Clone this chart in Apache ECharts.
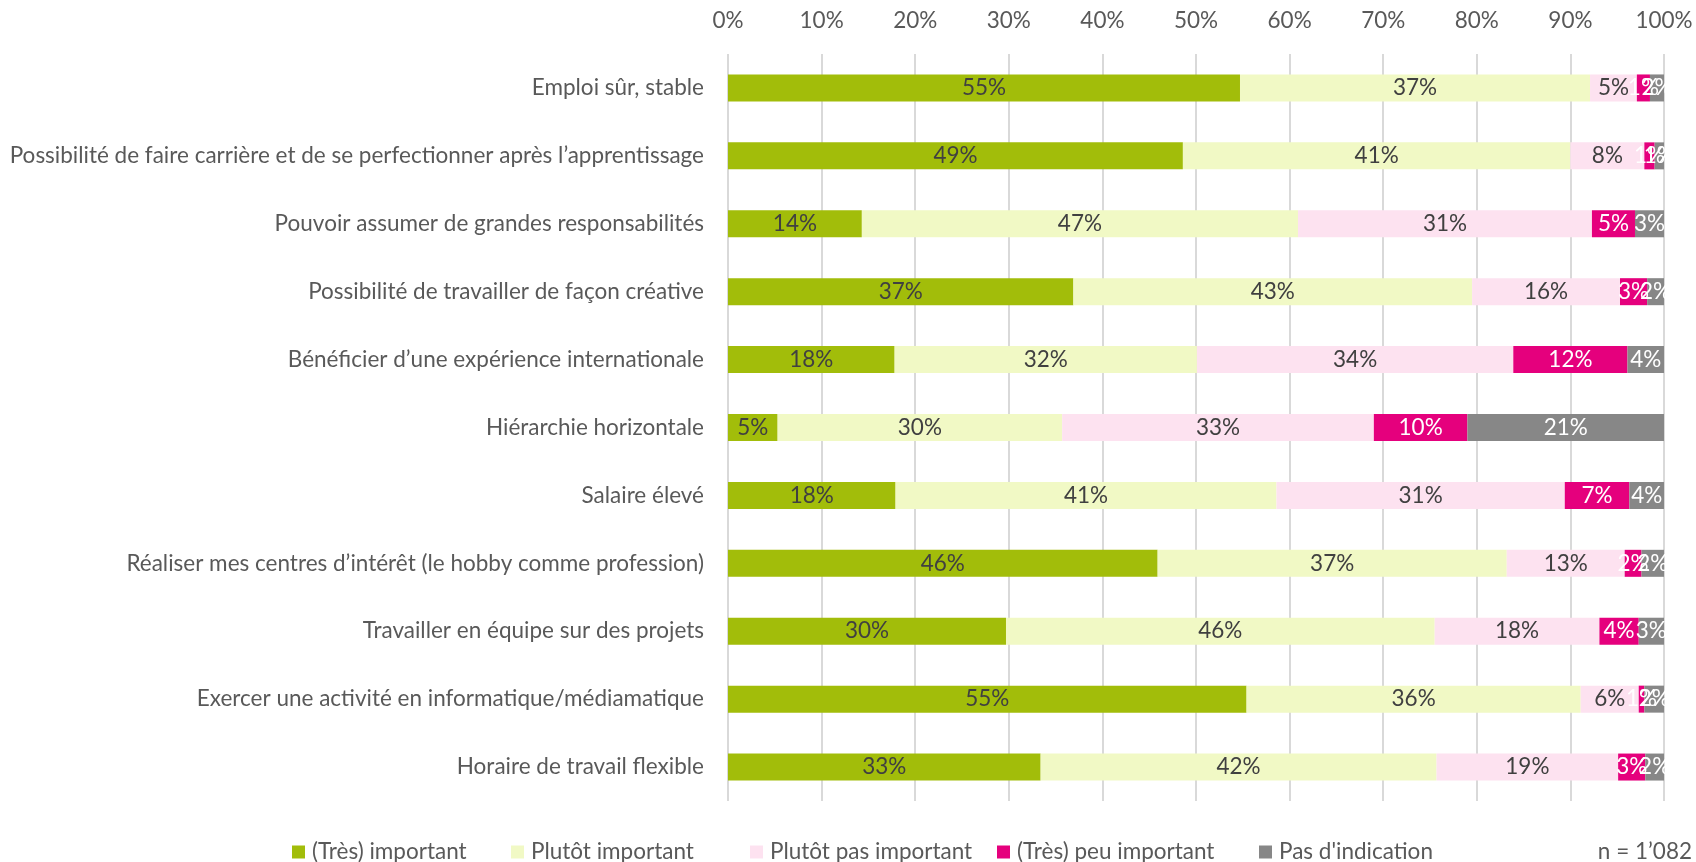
<!DOCTYPE html>
<html><head><meta charset="utf-8">
<script src="https://cdn.jsdelivr.net/npm/echarts@6/dist/echarts.min.js"></script>
<style>html,body{margin:0;padding:0;background:#fff}#c{width:1696px;height:862px}</style>
</head><body><div id="c"></div>
<script>
const categories = [
  "Emploi sûr, stable",
  "Possibilité de faire carrière et de se perfectionner après l’apprentissage",
  "Pouvoir assumer de grandes responsabilités",
  "Possibilité de travailler de façon créative",
  "Bénéficier d’une expérience internationale",
  "Hiérarchie horizontale",
  "Salaire élevé",
  "Réaliser mes centres d’intérêt (le hobby comme profession)",
  "Travailler en équipe sur des projets",
  "Exercer une activité en informatique/médiamatique",
  "Horaire de travail flexible"
];
const seriesNames = ["(Très) important", "Plutôt important", "Plutôt pas important", "(Très) peu important", "Pas d'indication"];
const tresImportant   = [54.7, 48.6, 14.3, 36.9, 17.8, 5.3, 17.9, 45.9, 29.7, 55.4, 33.4];
const plutotImportant = [37.4, 41.4, 46.6, 42.6, 32.3, 30.4, 40.7, 37.3, 45.8, 35.7, 42.3];
const plutotPas       = [5.0, 7.9, 31.4, 15.8, 33.8, 33.3, 30.8, 12.6, 17.6, 6.2, 19.4];
const peuImportant    = [1.4, 1.1, 4.6, 2.9, 12.2, 10.0, 6.9, 1.8, 4.2, 0.6, 2.9];
const pasIndication   = [1.5, 1.0, 3.1, 1.8, 3.9, 21.0, 3.7, 2.4, 2.7, 2.1, 2.0];
const tickLabels = ["0%","10%","20%","30%","40%","50%","60%","70%","80%","90%","100%"];
const noteText = "n = 1’082";

const colors = ["#a2bd0a", "#f1f9c5", "#fde2f0", "#e5007d", "#878787"];
const labelColors = ["#404040", "#404040", "#404040", "#ffffff", "#ffffff"];
const FONT = "Lato, sans-serif";
const FS = 22.5;
const allData = [tresImportant, plutotImportant, plutotPas, peuImportant, pasIndication];
const legendLefts = [292, 511, 750, 997, 1259];

const chart = echarts.init(document.getElementById('c'));
chart.setOption({
  animation: false,
  textStyle: { fontFamily: FONT },
  grid: { left: 728, right: 32, top: 54, bottom: 61, containLabel: false },
  xAxis: {
    type: 'value', position: 'top', min: 0, max: 100, interval: 10,
    axisLine: { show: false }, axisTick: { show: false },
    axisLabel: { margin: 22, color: '#595959', fontSize: FS, fontFamily: FONT,
      formatter: v => tickLabels[Math.round(v / 10)] },
    splitLine: { show: true, lineStyle: { color: '#d9d9d9', width: 2 } }
  },
  yAxis: {
    type: 'category', data: categories, inverse: true,
    axisLine: { show: false }, axisTick: { show: false },
    axisLabel: { margin: 24, color: '#595959', fontSize: FS, fontFamily: FONT }
  },
  legend: seriesNames.map((n, i) => ({
    top: 840, left: legendLefts[i], padding: 0, itemWidth: 13, itemHeight: 13,
    icon: 'rect', itemGap: 0,
    textStyle: { color: '#595959', fontSize: FS, fontFamily: FONT, lineHeight: 24, padding: [0, 0, 0, 2] },
    data: [n]
  })),
  graphic: [{
    type: 'text', x: 1692, y: 852,
    style: { text: noteText, fill: '#595959', font: FS + "px Lato, sans-serif", textAlign: 'right', textVerticalAlign: 'middle' }
  }],
  series: allData.map((d, i) => ({
    name: seriesNames[i], type: 'bar', stack: 'total', barWidth: 27,
    itemStyle: { color: colors[i] },
    label: { show: true, position: 'inside', color: labelColors[i], fontSize: FS, fontFamily: FONT,
      formatter: p => Math.round(p.value) + '%' },
    data: d
  }))
});
</script></body></html>
